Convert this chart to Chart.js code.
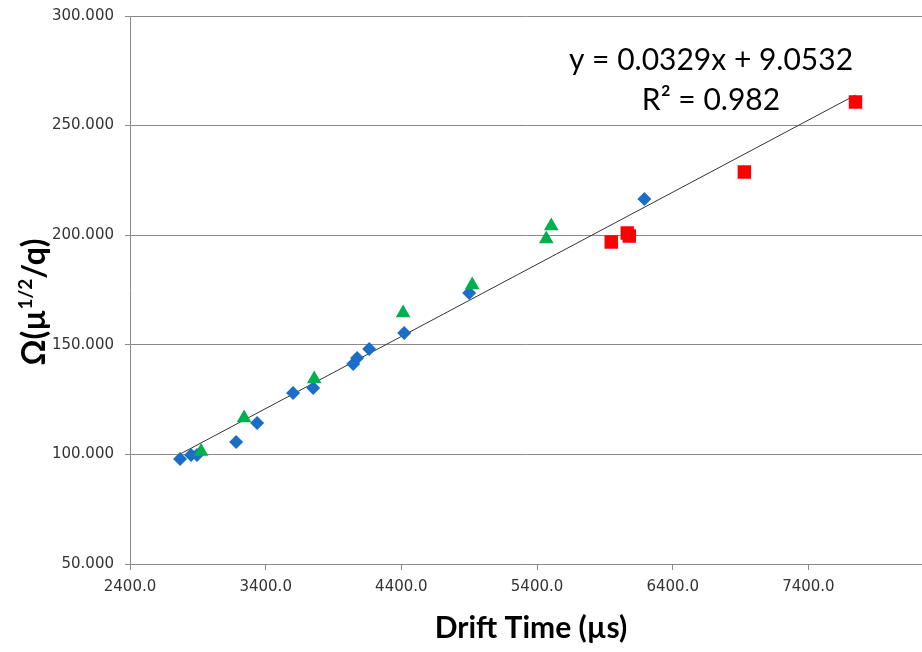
<!DOCTYPE html>
<html>
<head>
    <title>Drift Time Calibration</title>
    <script src="https://cdn.jsdelivr.net/npm/chart.js"></script>
    <style>
        html, body { margin: 0; padding: 0; background: #fff; overflow: hidden; }
        #wrap { width: 932px; height: 652px; position: relative; }
        #calChart { display: block; }
    </style>
</head>
<body>
    <div id="wrap"><canvas id="calChart"></canvas></div>

    <script>
        // blue diamonds
        const diamondX = [2769, 2850, 2894, 3182, 3337, 3602, 3750, 4045, 4074, 4163, 4421, 4900, 6191];
        const diamondY = [97.9, 99.7, 99.7, 105.7, 114.3, 128.0, 130.3, 141.2, 144.0, 148.1, 155.4, 173.6, 216.5];
        // green triangles
        const triangleX = [2924, 3241, 3758, 4413, 4922, 5468, 5505];
        const triangleY = [101.3, 116.6, 134.4, 164.5, 177.3, 198.3, 204.2];
        // red squares
        const squareX = [5947, 6065, 6080, 6928, 7747];
        const squareY = [196.9, 201.0, 199.6, 228.8, 260.8];
        // linear trendline (from the fitted equation)
        const slope = 0.0329;
        const intercept = 9.0532;
        const trendX = [2769, 7747];
        const xTicks = [2400, 3400, 4400, 5400, 6400, 7400];
        const yTicks = [50, 100, 150, 200, 250, 300];

        const gridGrey = '#8a8a8a';
        const toPoints = (xs, ys) => xs.map((x, i) => ({ x: x, y: ys[i] }));

        const titles = {
            id: 'titles',
            afterDraw(chart) {
                const ctx = chart.ctx;
                ctx.save();
                ctx.fillStyle = '#000';
                // x title
                ctx.font = 'bold 30px Lato';
                ctx.textAlign = 'center';
                ctx.textBaseline = 'alphabetic';
                ctx.fillText('Drift Time (µs)', 531, 638);
                // y title with superscript
                ctx.translate(45, 302);
                ctx.rotate(-Math.PI / 2);
                const parts = [['Ω(µ', 'bold 32px Lato', 0], ['1/2', 'bold 19px Lato', -13], ['/q)', 'bold 32px Lato', 0]];
                let total = 0;
                parts.forEach(p => { ctx.font = p[1]; total += ctx.measureText(p[0]).width; });
                let x = -total / 2;
                ctx.textAlign = 'left';
                parts.forEach(p => {
                    ctx.font = p[1];
                    ctx.fillText(p[0], x, p[2]);
                    x += ctx.measureText(p[0]).width;
                });
                ctx.restore();
                // equation
                ctx.save();
                ctx.fillStyle = '#000';
                ctx.font = '30px Lato';
                ctx.textAlign = 'center';
                ctx.fillText('y = ' + slope + 'x + ' + intercept, 711, 70);
                ctx.fillText('R² = 0.982', 711, 110);
                ctx.restore();
            }
        };

        const ctx = document.getElementById('calChart').getContext('2d');
        new Chart(ctx, {
            type: 'scatter',
            data: {
                datasets: [
                    {
                        label: 'triangles',
                        data: toPoints(triangleX, triangleY),
                        pointStyle: 'triangle',
                        pointRadius: 8.5,
                        backgroundColor: '#00b050',
                        borderColor: '#00b050',
                        borderWidth: 0
                    },
                    {
                        label: 'squares',
                        data: toPoints(squareX, squareY),
                        pointStyle: 'rect',
                        pointRadius: 9.5,
                        backgroundColor: '#ff0000',
                        borderColor: '#ff0000',
                        borderWidth: 0
                    },
                    {
                        label: 'diamonds',
                        data: toPoints(diamondX, diamondY),
                        pointStyle: 'rectRot',
                        pointRadius: 7,
                        backgroundColor: '#1a6ec6',
                        borderColor: '#1a6ec6',
                        borderWidth: 0
                    },
                    {
                        label: 'trend',
                        type: 'line',
                        data: trendX.map(x => ({ x: x, y: slope * x + intercept })),
                        borderColor: '#333',
                        borderWidth: 1,
                        pointRadius: 0,
                        fill: false
                    }
                ]
            },
            options: {
                responsive: true,
                maintainAspectRatio: false,
                animation: false,
                layout: { padding: { top: 16, right: 0, left: 0, bottom: 0 } },
                plugins: {
                    legend: { display: false },
                    tooltip: { enabled: false }
                },
                scales: {
                    x: {
                        type: 'linear',
                        min: 2400,
                        max: 8241,
                        afterBuildTicks: s => { s.ticks = xTicks.map(v => ({ value: v })); },
                        afterFit: s => { s.height = 88; s.paddingRight = 0; s.paddingLeft = 0; },
                        ticks: {
                            callback: v => v.toFixed(1),
                            color: '#333',
                            font: { family: 'DejaVu Sans', size: 15 },
                            padding: 8,
                            maxRotation: 0
                        },
                        grid: {
                            drawOnChartArea: false,
                            drawTicks: true,
                            tickLength: 6,
                            color: gridGrey
                        },
                        border: { color: gridGrey }
                    },
                    y: {
                        min: 50,
                        max: 300,
                        afterBuildTicks: s => { s.ticks = yTicks.map(v => ({ value: v })); },
                        afterFit: s => { s.width = 130; s.paddingTop = 0; s.paddingBottom = 0; },
                        ticks: {
                            callback: v => v.toFixed(3),
                            color: '#333',
                            font: { family: 'DejaVu Sans', size: 15 },
                            padding: 11
                        },
                        grid: {
                            color: gridGrey,
                            tickLength: 5
                        },
                        border: { color: gridGrey }
                    }
                }
            },
            plugins: [titles]
        });
    </script>
</body>
</html>
